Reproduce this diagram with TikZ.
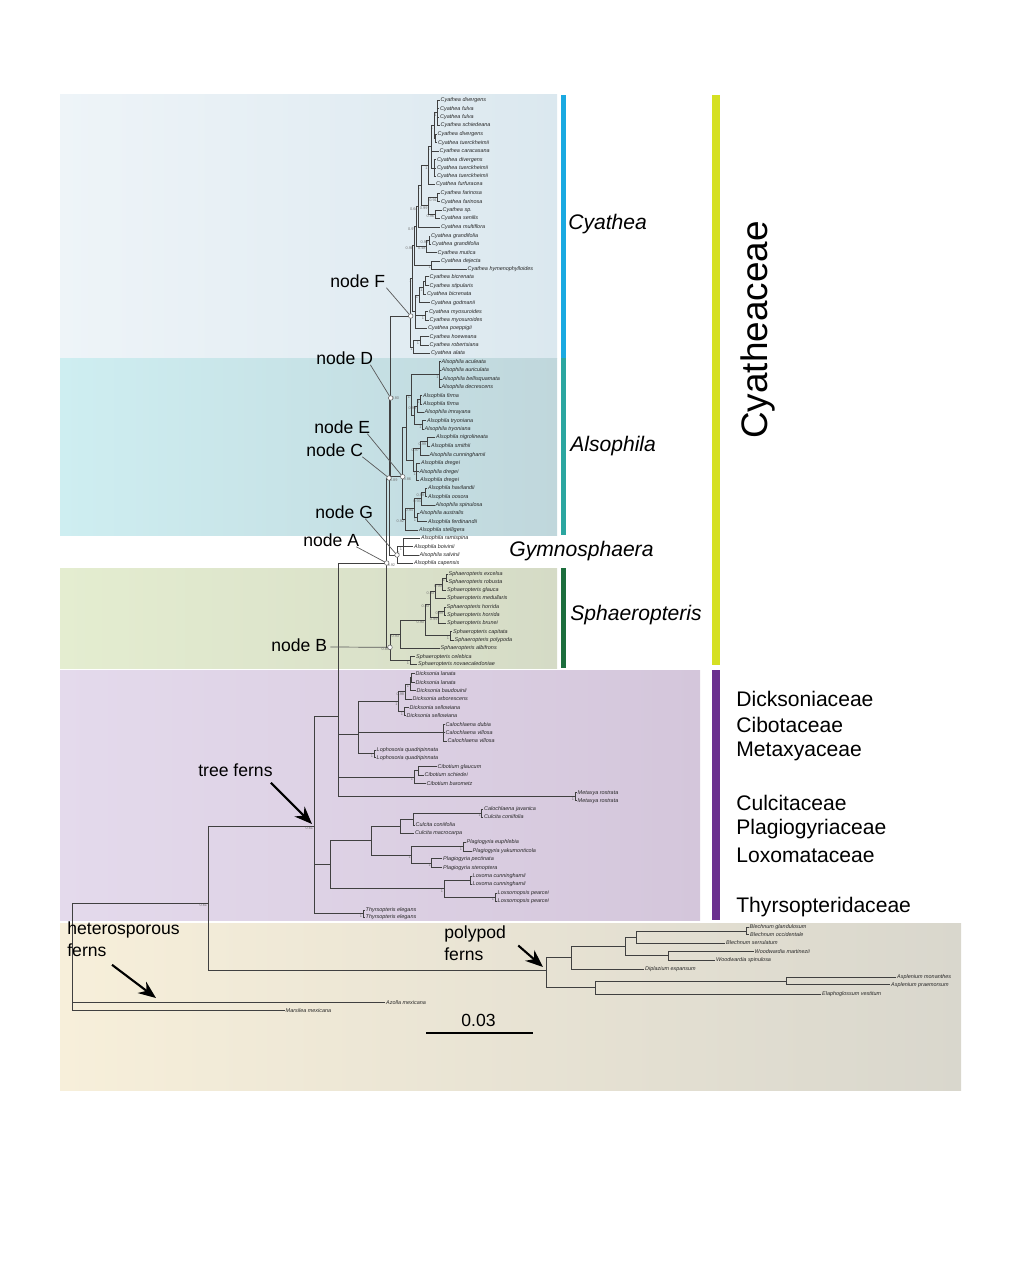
\documentclass[tikz,border=0pt]{standalone}
\usepackage{fontspec}
\setmainfont{Liberation Sans}
\usetikzlibrary{arrows.meta}
\usetikzlibrary{calc}

\definecolor{cyatheaL}{HTML}{EEF4F8}
\definecolor{cyatheaR}{HTML}{DBE8EF}
\definecolor{alsoL}{HTML}{CEEEF1}
\definecolor{alsoR}{HTML}{C0D7DC}
\definecolor{sphaeL}{HTML}{E4EDD0}
\definecolor{sphaeR}{HTML}{D5DBC6}
\definecolor{dickL}{HTML}{E4DAEC}
\definecolor{dickR}{HTML}{D4C6DB}
\definecolor{hetL}{HTML}{F7EFDA}
\definecolor{hetM}{HTML}{FCFBF6}
\definecolor{polR}{HTML}{D9D7CD}
\definecolor{cyatheaBar}{HTML}{1AA9E1}
\definecolor{alsoBar}{HTML}{2BA6A0}
\definecolor{sphaeBar}{HTML}{1C6E3D}
\definecolor{familyBar}{HTML}{D5E022}
\definecolor{dickBar}{HTML}{6B2F8F}

\tikzset{
  tiplab/.style={font=\fontsize{3.1}{3.5}\selectfont\itshape, text=black!85, inner sep=0.5pt},
  leaf/.style={label={[tiplab]right:#1}},
  sv/.style={font=\fontsize{2.2}{2.4}\selectfont, text=black!55, inner sep=0.3pt},
  supp/.style={label={[sv]below left:#1}},
  branch/.style={draw=black!75, line width=0.5pt},
  nodelab/.style={font=\fontsize{10}{12}\selectfont, inner sep=0pt, anchor=west},
  pointer/.style={draw=black!65, line width=0.4pt},
  cladelab/.style={font=\fontsize{12}{14}\selectfont\itshape, inner sep=0pt, anchor=west},
  famlab/.style={font=\fontsize{12}{14}\selectfont, inner sep=0pt, anchor=west},
  bigarrow/.style={line width=1.2pt, -{Stealth[length=10pt, width=8pt]}}
}

\begin{document}
\begin{tikzpicture}[x=0.02cm, y=-0.02cm]
  \useasboundingbox (0,0) rectangle (1020,1274);

  % coloured boxes behind the clades
  \shade [left color=cyatheaL, right color=cyatheaR] (60,95) rectangle (557,358);
  \shade [left color=alsoL, right color=alsoR] (60,358) rectangle (557,535);
  \shade [left color=sphaeL, right color=sphaeR] (60,568) rectangle (557,668);
  \shade [left color=dickL, right color=dickR] (60,670) rectangle (700,920);
  \shade [left color=hetL, middle color=hetM, right color=polR] (60,923) rectangle (961,1090);

  \fill [cyatheaBar] (561,95) rectangle (566,358);
  \fill [alsoBar] (561,358) rectangle (566,535);
  \fill [sphaeBar] (561,568) rectangle (566,668);
  \fill [familyBar] (712,95) rectangle (720,665);
  \fill [dickBar] (712,670) rectangle (720,920);

  % Cyathea
  \coordinate [leaf=Cyathea divergens] (t01) at (439.5,100.3);
  \coordinate [leaf=Cyathea fulva] (t02) at (439,108.7);
  \coordinate [leaf=Cyathea fulva] (t03) at (439,117);
  \coordinate [leaf=Cyathea schiedeana] (t04) at (439.5,125.3);
  \coordinate [leaf=Cyathea divergens] (t05) at (436.5,134.3);
  \coordinate [leaf=Cyathea tuerckheimii] (t06) at (437,142.7);
  \coordinate [leaf=Cyathea caracasana] (t07) at (438.5,151.3);
  \coordinate [leaf=Cyathea divergens] (t08) at (436,159.7);
  \coordinate [leaf=Cyathea tuerckheimii] (t09) at (436,168);
  \coordinate [leaf=Cyathea tuerckheimii] (t10) at (436,176.3);
  \coordinate [leaf=Cyathea furfuracea] (t11) at (435,184.3);
  \coordinate [leaf=Cyathea farinosa] (t12) at (439.5,193.3);
  \coordinate [leaf=Cyathea farinosa] (t13) at (440,201.7);
  \coordinate [leaf=Cyathea sp.] (t14) at (441.5,210);
  \coordinate [leaf=Cyathea senilis] (t15) at (440,218.3);
  \coordinate [leaf=Cyathea multiflora] (t16) at (440,227.3);
  \coordinate [leaf=Cyathea grandifolia] (t17) at (430,236);
  \coordinate [leaf=Cyathea grandifolia] (t18) at (431,244.3);
  \coordinate [leaf=Cyathea mutica] (t19) at (436.5,252.7);
  \coordinate [leaf=Cyathea dejecta] (t20) at (440,261);
  \coordinate [leaf=Cyathea hymenophylloides] (t21) at (466.5,269);
  \coordinate [leaf=Cyathea bicrenata] (t22) at (428.5,276.7);
  \coordinate [leaf=Cyathea stipularis] (t23) at (428.5,285.7);
  \coordinate [leaf=Cyathea bicrenata] (t24) at (426,294);
  \coordinate [leaf=Cyathea godmanii] (t25) at (430,302.7);
  \coordinate [leaf=Cyathea myosuroides] (t26) at (428,311.7);
  \coordinate [leaf=Cyathea myosuroides] (t27) at (428.5,320);
  \coordinate [leaf=Cyathea poeppigii] (t28) at (427,328.3);
  \coordinate [leaf=Cyathea hoeweana] (t29) at (428.5,336.7);
  \coordinate [leaf=Cyathea robertsiana] (t30) at (428.5,345);
  \coordinate [leaf=Cyathea alata] (t31) at (430,353.3);

  \coordinate [supp=1] (cua) at (437.5,112.7);
  \coordinate (cub) at (435,138.5);
  \coordinate [supp=1] (cuc) at (434,125.6);
  \coordinate (cue) at (434.5,168);
  \coordinate [supp=1] (cud) at (431,146.8);
  \coordinate [supp=1] (cuf) at (428.3,165.6);
  \coordinate [supp=0.91] (cva) at (437.7,197.5);
  \coordinate [supp=0.96] (cvb) at (435,214.2);
  \coordinate [supp=0.99] (cvc) at (428.3,205.8);
  \coordinate [supp=1] (cug) at (421,185.7);
  \coordinate [supp=0.64] (cvd) at (418.5,206.5);
  \coordinate [supp=0.99] (cve) at (429,240.2);
  \coordinate [supp=0.48] (cvf) at (426.5,246.4);
  \coordinate [supp=0.97] (cvg) at (416.5,226.5);
  \coordinate [supp=1] (cvh) at (431.7,265);
  \coordinate [supp=0.98] (cvi) at (414,245.7);
  \coordinate (cya) at (425,281.2);
  \coordinate [supp=1] (cyb) at (423.3,287.6);
  \coordinate [supp=1] (cyc) at (419,295.1);
  \coordinate [supp=1] (cyd) at (425,315.8);
  \coordinate (cye) at (415.5,311.7);
  \coordinate [supp=1] (cyf) at (412.5,278.7);
  \coordinate [supp=1] (cyp) at (420,340.8);
  \coordinate [supp=1] (cyq) at (413.3,347);
  \coordinate [label={[sv]below:1}] (nF) at (410.7,316);

  % Alsophila
  \coordinate [leaf=Alsophila aculeata] (t32) at (440.5,361.7);
  \coordinate [leaf=Alsophila auriculata] (t33) at (440.5,370);
  \coordinate [leaf=Alsophila bellisquamata] (t34) at (441.5,379);
  \coordinate [leaf=Alsophila decrescens] (t35) at (440.5,387.3);
  \coordinate [leaf=Alsophila firma] (t36) at (422,395.7);
  \coordinate [leaf=Alsophila firma] (t37) at (422,404);
  \coordinate [leaf=Alsophila imrayana] (t38) at (423.5,412.3);
  \coordinate [leaf=Alsophila tryoniana] (t39) at (426,420.7);
  \coordinate [leaf=Alsophila tryoniana] (t40) at (423.5,429);
  \coordinate [leaf=Alsophila nigrolineata] (t41) at (435,437.3);
  \coordinate [leaf=Alsophila smithii] (t42) at (430,446);
  \coordinate [leaf=Alsophila cunninghamii] (t43) at (428.5,455);
  \coordinate [leaf=Alsophila dregei] (t44) at (420,463.3);
  \coordinate [leaf=Alsophila dregei] (t45) at (418.5,471.7);
  \coordinate [leaf=Alsophila dregei] (t46) at (419,480);
  \coordinate [leaf=Alsophila havilandii] (t47) at (427,488.3);
  \coordinate [leaf=Alsophila oosora] (t48) at (427,496.7);
  \coordinate [leaf=Alsophila spinulosa] (t49) at (434.5,505);
  \coordinate [leaf=Alsophila australis] (t50) at (418.5,513.3);
  \coordinate [leaf=Alsophila ferdinandii] (t51) at (427,521.7);
  \coordinate [leaf=Alsophila stelligera] (t52) at (418,530);

  \coordinate [supp=1] (acu) at (439.5,374.5);
  \coordinate [supp=1] (alp) at (420.5,399.8);
  \coordinate [supp=0.99] (alf) at (417,406);
  \coordinate [supp=1] (alt) at (422.5,424.8);
  \coordinate (al2) at (414,415.4);
  \coordinate [supp=1] (al1) at (411,395);
  \coordinate [supp=0.99] (ans) at (427,441.7);
  \coordinate [supp=0.97] (aln) at (420,448.3);
  \coordinate [supp=1] (ald) at (416.7,471.7);
  \coordinate (al3) at (413,460);
  \coordinate (ea) at (406.5,427.5);
  \coordinate [supp=0.99] (ebp) at (425,492.5);
  \coordinate [supp=0.93] (ebh) at (421.7,498.8);
  \coordinate [supp=1] (eba) at (417,517.5);
  \coordinate [supp=0.94] (eb1) at (414,508.1);
  \coordinate [supp=0.92] (eb) at (405,519);
  \coordinate [label={[sv]below right:0.86}] (nE) at (402.7,476.7);

  % Gymnosphaera
  \coordinate [leaf=Alsophila ramispina] (t53) at (420,538.3);
  \coordinate [leaf=Alsophila boivinii] (t54) at (413,546.7);
  \coordinate [leaf=Alsophila salvinii] (t55) at (418.5,555);
  \coordinate [leaf=Alsophila capensis] (t56) at (413,563.3);
  \coordinate [supp=1] (gy1) at (403,546.7);
  \coordinate [label={[sv]above right:1}] (nG) at (397,555);

  \coordinate [label={[sv]right:0.80}] (nD) at (390.7,398);
  \coordinate [label={[sv]below right:0.89}] (nC) at (389,478);

  % Sphaeropteris
  \coordinate [leaf=Sphaeropteris excelsa] (t57) at (447.5,574.3);
  \coordinate [leaf=Sphaeropteris robusta] (t58) at (447.5,581.7);
  \coordinate [leaf=Sphaeropteris glauca] (t59) at (446,590);
  \coordinate [leaf=Sphaeropteris medullaris] (t60) at (446,598.3);
  \coordinate [leaf=Sphaeropteris horrida] (t61) at (445.5,607.3);
  \coordinate [leaf=Sphaeropteris horrida] (t62) at (446,615);
  \coordinate [leaf=Sphaeropteris brunei] (t63) at (446,623.3);
  \coordinate [leaf=Sphaeropteris capitata] (t64) at (452,631.7);
  \coordinate [leaf=Sphaeropteris polypoda] (t65) at (453.5,640);
  \coordinate [leaf=Sphaeropteris albifrons] (t66) at (439.5,648.3);
  \coordinate [leaf=Sphaeropteris celebica] (t67) at (415,656.7);
  \coordinate [leaf=Sphaeropteris novaecaledoniae] (t68) at (417,664.3);

  \coordinate [supp=1] (s1) at (446,578);
  \coordinate [supp=0.99] (s2) at (442.7,584);
  \coordinate [supp=0.93] (s3) at (435,591.2);
  \coordinate [supp=0.99] (s4) at (444,611.2);
  \coordinate [supp=0.99] (s5) at (438.3,617.3);
  \coordinate [supp=0.93] (s6) at (430,604.2);
  \coordinate [supp=1] (s7) at (450,635.8);
  \coordinate [supp=0.90] (s8) at (425,620);
  \coordinate [supp=0.93] (s9) at (400,634.2);
  \coordinate [supp=1] (s10) at (410,660.5);
  \coordinate [label={[sv]below left:0.89}] (nB) at (390,647.3);

  \coordinate [label={[sv]below right:0.92}] (nA) at (386.7,563);

  % Dicksoniaceae, Cibotiaceae, Metaxyaceae
  \coordinate [leaf=Dicksonia lanata] (t69) at (414.5,673.3);
  \coordinate [leaf=Dicksonia lanata] (t70) at (414.5,682.3);
  \coordinate [leaf=Dicksonia baudouinii] (t71) at (415.5,690.7);
  \coordinate [leaf=Dicksonia arborescens] (t72) at (411.5,699);
  \coordinate [leaf=Dicksonia sellowiana] (t73) at (408.5,707.7);
  \coordinate [leaf=Dicksonia sellowiana] (t74) at (405.5,715.7);
  \coordinate [leaf=Calochlaena dubia] (t75) at (444.5,724.3);
  \coordinate [leaf=Calochlaena villosa] (t76) at (444.5,732.7);
  \coordinate [leaf=Calochlaena villosa] (t77) at (446.5,741);
  \coordinate [leaf=Lophosoria quadripinnata] (t78) at (375.5,750);
  \coordinate [leaf=Lophosoria quadripinnata] (t79) at (375.5,757.7);
  \coordinate [leaf=Cibotium glaucum] (t80) at (436.5,766.7);
  \coordinate [leaf=Cibotium schiedei] (t81) at (423.5,775);
  \coordinate [leaf=Cibotium barometz] (t82) at (425.5,783.7);
  \coordinate [leaf=Metaxya rostrata] (t83) at (576.5,792.7);
  \coordinate [leaf=Metaxya rostrata] (t84) at (576.5,800.7);

  \coordinate (dk1) at (411.7,677.8);
  \coordinate [supp=1] (dk2) at (410,684.2);
  \coordinate [supp=0.98] (dk3) at (405,691.6);
  \coordinate [supp=1] (dk4) at (404,711.7);
  \coordinate [supp=1] (dk) at (398.3,701.6);
  \coordinate (cal) at (443,732.7);
  \coordinate [supp=1] (lop) at (374,753.8);
  \coordinate (dks) at (358.3,734);
  \coordinate (ci2) at (418,770.8);
  \coordinate [supp=1] (ci) at (414,777.2);
  \coordinate [supp=1] (mx) at (575,796.7);
  \coordinate (cd) at (338,716);

  % Culcitaceae, Plagiogyriaceae, Loxomataceae, Thyrsopteridaceae
  \coordinate [leaf=Calochlaena javanica] (t85) at (483,809);
  \coordinate [leaf=Culcita coniifolia] (t86) at (483,817);
  \coordinate [leaf=Culcita coniifolia] (t87) at (414.5,825);
  \coordinate [leaf=Culcita macrocarpa] (t88) at (414,833.3);
  \coordinate [leaf=Plagiogyria euphlebia] (t89) at (465.5,842.3);
  \coordinate [leaf=Plagiogyria yakumonticola] (t90) at (471.5,851);
  \coordinate [leaf=Plagiogyria pectinata] (t91) at (442,858.7);
  \coordinate [leaf=Plagiogyria stenoptera] (t92) at (442,867.7);
  \coordinate [leaf=Loxoma cunninghamii] (t93) at (471.5,876);
  \coordinate [leaf=Loxoma cunninghamii] (t94) at (471.5,884);
  \coordinate [leaf=Loxsomopsis pearcei] (t95) at (496.5,893);
  \coordinate [leaf=Loxsomopsis pearcei] (t96) at (496.5,901);
  \coordinate [leaf=Thyrsopteris elegans] (t97) at (364.5,910);
  \coordinate [leaf=Thyrsopteris elegans] (t98) at (364.5,917.5);

  \coordinate [supp=1] (cu3) at (481.7,813);
  \coordinate (cu2) at (413,819);
  \coordinate (cu1) at (400,826.2);
  \coordinate [supp=1] (pl1) at (463,846.7);
  \coordinate [supp=1] (pl2) at (431.7,863.2);
  \coordinate [supp=1] (pl) at (411.7,855);
  \coordinate (cp) at (371.7,840.6);
  \coordinate (lx1) at (470,880);
  \coordinate [supp=1] (lx2) at (495,897);
  \coordinate [supp=1] (lx) at (444,888.5);
  \coordinate (cl) at (330,864.5);
  \coordinate [supp=1] (th) at (363,913.8);
  \coordinate [supp=0.61] (tf) at (314,826);

  % polypods
  \coordinate [leaf=Blechnum glandulosum] (t99) at (748.5,927.3);
  \coordinate [leaf=Blechnum occidentale] (t100) at (749,934.7);
  \coordinate [leaf=Blechnum serrulatum] (t101) at (725,943);
  \coordinate [leaf=Woodwardia martinezii] (t102) at (753.5,951.3);
  \coordinate [leaf=Woodwardia spinulosa] (t103) at (715,960.3);
  \coordinate [leaf=Diplazium expansum] (t104) at (644,969);
  \coordinate [leaf=Asplenium monanthes] (t105) at (896,977.3);
  \coordinate [leaf=Asplenium praemorsum] (t106) at (890,984.7);
  \coordinate [leaf=Elaphoglossum vestitum] (t107) at (821,994);

  \coordinate (bl) at (746.7,931);
  \coordinate (p3) at (636.7,937);
  \coordinate (wd) at (668.3,955.8);
  \coordinate (p2) at (625,946.5);
  \coordinate (p1) at (571.7,957.7);
  \coordinate (asp) at (786.7,981);
  \coordinate (p4) at (595,987.5);
  \coordinate (po) at (546.7,970);

  % heterosporous ferns and root
  \coordinate [leaf=Azolla mexicana] (t108) at (385,1002.7);
  \coordinate [leaf=Marsilea mexicana] (t109) at (284.5,1010.7);
  \coordinate [supp=0.61] (n208) at (208,903);
  \coordinate (root) at (72,957);

  \foreach \p/\c in {cua/t01, cua/t02, cua/t03, cua/t04, cub/t05, cub/t06,
      cuc/cua, cuc/cub, cue/t08, cue/t09, cue/t10, cud/cuc, cud/t07, cud/cue,
      cuf/cud, cuf/t11, cva/t12, cva/t13, cvb/t14, cvb/t15, cvc/cva, cvc/cvb,
      cug/cuf, cug/cvc, cvd/cug, cvd/t16, cve/t17, cve/t18, cvf/cve, cvf/t19,
      cvg/cvd, cvg/cvf, cvh/t20, cvh/t21, cvi/cvg, cvi/cvh,
      cya/t22, cya/t23, cyb/cya, cyb/t24, cyc/cyb, cyc/t25, cyd/t26, cyd/t27,
      cye/cyc, cye/cyd, cye/t28, cyf/cvi, cyf/cye, cyp/t29, cyp/t30,
      cyq/cyp, cyq/t31, nF/cyf, nF/cyq,
      acu/t32, acu/t33, acu/t34, acu/t35, alp/t36, alp/t37, alf/alp, alf/t38,
      alt/t39, alt/t40, al2/alf, al2/alt, al1/acu, al1/al2,
      ans/t41, ans/t42, aln/ans, aln/t43, ald/t44, ald/t45, ald/t46,
      al3/aln, al3/ald, ea/al1, ea/al3, ebp/t47, ebp/t48, ebh/ebp, ebh/t49,
      eba/t50, eba/t51, eb1/ebh, eb1/eba, eb/eb1, eb/t52, nE/ea, nE/eb,
      gy1/t53, gy1/t54, gy1/t55, nG/gy1, nG/t56,
      nD/nF, nD/nE, nC/nD, nC/nG,
      s1/t57, s1/t58, s2/s1, s2/t59, s3/s2, s3/t60, s4/t61, s4/t62,
      s5/s4, s5/t63, s6/s3, s6/s5, s7/t64, s7/t65, s8/s6, s8/s7,
      s9/s8, s9/t66, s10/t67, s10/t68, nB/s9, nB/s10, nA/nC, nA/nB,
      dk1/t69, dk1/t70, dk2/dk1, dk2/t71, dk3/dk2, dk3/t72, dk4/t73, dk4/t74,
      dk/dk3, dk/dk4, cal/t75, cal/t76, cal/t77, lop/t78, lop/t79,
      dks/dk, dks/cal, dks/lop, ci2/t80, ci2/t81, ci/ci2, ci/t82,
      mx/t83, mx/t84, cd/nA, cd/dks, cd/ci, cd/mx,
      cu3/t85, cu3/t86, cu2/cu3, cu2/t87, cu1/cu2, cu1/t88,
      pl1/t89, pl1/t90, pl2/t91, pl2/t92, pl/pl1, pl/pl2, cp/cu1, cp/pl,
      lx1/t93, lx1/t94, lx2/t95, lx2/t96, lx/lx1, lx/lx2, cl/cp, cl/lx,
      th/t97, th/t98, tf/cd, tf/cl, tf/th,
      bl/t99, bl/t100, p3/bl, p3/t101, wd/t102, wd/t103, p2/p3, p2/wd,
      p1/p2, p1/t104, asp/t105, asp/t106, p4/asp, p4/t107, po/p1, po/p4,
      n208/tf, n208/po, root/n208, root/t108, root/t109}
    \draw [branch] (\p) |- (\c);

  % labelled nodes
  \node [nodelab] (labF) at (330,281) {node F};
  \node [nodelab] (labD) at (316,358) {node D};
  \node [nodelab] (labE) at (314,427) {node E};
  \node [nodelab] (labC) at (306,450) {node C};
  \node [nodelab] (labG) at (315,512) {node G};
  \node [nodelab] (labA) at (303,540) {node A};
  \node [nodelab] (labB) at (271,645) {node B};

  \draw [pointer] ($ (labF.south east)+(1,0) $) -- (nF);
  \draw [pointer] ($ (labD.south east)+(-3,0) $) -- (nD);
  \draw [pointer] ($ (labE.south east)+(-3,0) $) -- (nE);
  \draw [pointer] ($ (labC.south east)+(-1,0) $) -- (nC);
  \draw [pointer] ($ (labG.south east)+(-8,0) $) -- (nG);
  \draw [pointer] ($ (labA.south east)+(-3,0) $) -- (nA);
  \draw [pointer] ($ (labB.east)+(3,2) $) -- (nB);

  \foreach \n in {nA,nB,nC,nD,nE,nF,nG}
    \draw [fill=white, draw=black!60, line width=0.3pt] (\n) circle [radius=1.3pt];

  % clade and family names
  \node [cladelab] (cyatheaName) at (568,224) {Cyathea};
  \node [cladelab] (alsophilaName) at (570,446) {Alsophila};
  \node [cladelab] (gymnoName) at (509,551) {Gymnosphaera};
  \node [cladelab] (sphaeroName) at (570,615) {Sphaeropteris};
  \node [font=\fontsize{21}{24}\selectfont, rotate=90, inner sep=0pt] (cyatheaceaeName) at (758,330) {Cyatheaceae};

  \node [famlab] (dickName) at (736,699) {Dicksoniaceae};
  \node [famlab] (ciboName) at (736,725) {Cibotaceae};
  \node [famlab] (metaName) at (736,751) {Metaxyaceae};
  \node [famlab] (culcName) at (736,803) {Culcitaceae};
  \node [famlab] (plagName) at (736,829) {Plagiogyriaceae};
  \node [famlab] (loxName) at (736,855) {Loxomataceae};
  \node [famlab] (thyrName) at (736,907) {Thyrsopteridaceae};

  % arrows to the main groups
  \node [nodelab] (treeFerns) at (198,770) {tree ferns};
  \node [nodelab, align=left, font=\fontsize{10}{12.5}\selectfont] (hetFerns) at (67,939) {heterosporous\\ferns};
  \node [nodelab, align=left, font=\fontsize{10}{12.5}\selectfont] (polyFerns) at (444,943.5) {polypod\\ferns};
  \coordinate (treeTip) at (312,824);
  \coordinate (hetTip) at (156,998);
  \coordinate (polyTip) at (543,967);
  \draw [bigarrow] ($ (treeFerns.south east)+(-2,6) $) -- (treeTip);
  \draw [bigarrow] ($ (hetFerns.south west)+(45,8) $) -- (hetTip);
  \draw [bigarrow] ($ (polyFerns.east)+(12,2) $) -- (polyTip);

  % scale bar
  \coordinate (barL) at (426,1033);
  \coordinate (barR) at (533,1033);
  \draw [line width=0.9pt] (barL) -- (barR);
  \node [font=\fontsize{10}{12}\selectfont, inner sep=0pt] (barLab) at (478.5,1020) {0.03};
\end{tikzpicture}
\end{document}
